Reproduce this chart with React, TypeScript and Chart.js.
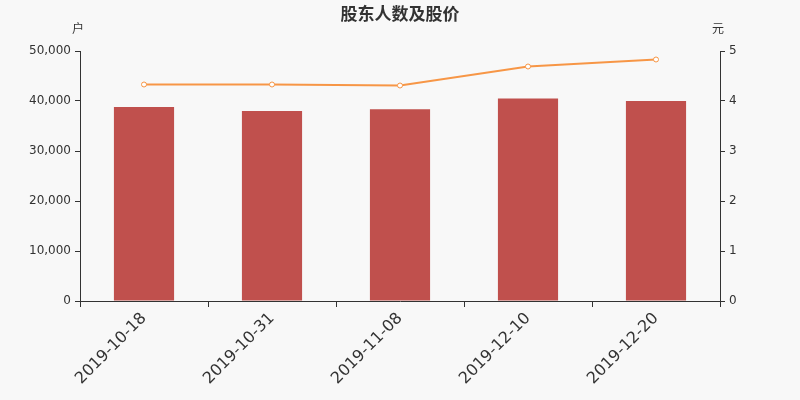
import React, { useEffect, useRef } from 'react'
import Chart from 'chart.js/auto'

const dates = ['2019-10-18', '2019-10-31', '2019-11-08', '2019-12-10', '2019-12-20']
const holders = [38800, 38000, 38350, 40500, 40000]
const prices = [4.33, 4.33, 4.31, 4.69, 4.83]

const FONT = '"DejaVu Sans", sans-serif'
const CJK = '"Noto Sans CJK SC", sans-serif'

const decor = {
  id: 'decor',
  beforeDraw(chart: any) {
    const { ctx, width, height } = chart
    ctx.save()
    ctx.fillStyle = '#f8f8f8'
    ctx.fillRect(0, 0, width, height)
    ctx.restore()
  },
  afterDraw(chart: any) {
    const { ctx, scales } = chart
    ctx.save()
    ctx.fillStyle = '#333'
    ctx.textAlign = 'center'
    ctx.textBaseline = 'middle'
    ctx.font = `bold 17px ${CJK}`
    ctx.fillText('股东人数及股价', chart.width / 2, 14)
    ctx.font = `12px ${CJK}`
    ctx.fillText('户', scales.y.right - 2, 28)
    ctx.fillText('元', scales.y1.left - 2, 28)
    ctx.restore()
  },
}

const App = () => {
  const ref = useRef<HTMLCanvasElement | null>(null)

  useEffect(() => {
    document.body.style.margin = '0'
    if (!ref.current) return
    const chart = new Chart(ref.current, {
      type: 'bar',
      data: {
        labels: dates,
        datasets: [
          {
            type: 'line',
            label: '股价',
            data: prices,
            yAxisID: 'y1',
            borderColor: '#f79646',
            borderWidth: 2,
            pointRadius: 2.5,
            pointBorderWidth: 1,
            pointBackgroundColor: '#ffffff',
            pointBorderColor: '#f79646',
            tension: 0,
            order: 0,
          },
          {
            type: 'bar',
            label: '股东人数',
            data: holders,
            yAxisID: 'y',
            backgroundColor: '#c0504d',
            categoryPercentage: 1,
            barPercentage: 0.47,
            order: 1,
          },
        ],
      },
      options: {
        animation: false,
        responsive: false,
        maintainAspectRatio: false,
        layout: { padding: { top: 51, bottom: 0, left: 0, right: 0 } },
        plugins: {
          legend: { display: false },
          tooltip: { enabled: false },
          title: { display: false },
        },
        scales: {
          x: {
            grid: {
              display: true,
              drawOnChartArea: false,
              drawTicks: true,
              tickLength: 6,
              offset: true,
              color: '#333',
            },
            border: { display: true, color: '#333' },
            ticks: {
              minRotation: 45,
              maxRotation: 45,
              padding: 2,
              color: '#333',
              font: { family: FONT, size: 16 },
            },
            afterFit: (s: any) => {
              s.height = 99
            },
          },
          y: {
            position: 'left',
            min: 0,
            max: 50000,
            grid: { display: true, drawOnChartArea: false, tickLength: 5, color: '#333' },
            border: { display: true, color: '#333' },
            ticks: {
              stepSize: 10000,
              padding: 4,
              color: '#333',
              font: { family: FONT, size: 12 },
            },
            afterFit: (s: any) => {
              s.width = 80
            },
          },
          y1: {
            position: 'right',
            min: 0,
            max: 5,
            grid: { display: true, drawOnChartArea: false, tickLength: 5, color: '#333' },
            border: { display: true, color: '#333' },
            ticks: {
              stepSize: 1,
              padding: 4,
              color: '#333',
              font: { family: FONT, size: 12 },
            },
            afterFit: (s: any) => {
              s.width = 80
            },
          },
        },
      },
      plugins: [decor],
    })

    return () => chart.destroy()
  }, [])

  return (
    <div style={{ position: 'relative', width: '800px', height: '400px' }}>
      <canvas ref={ref} width={800} height={400} />
    </div>
  )
}

export default App
